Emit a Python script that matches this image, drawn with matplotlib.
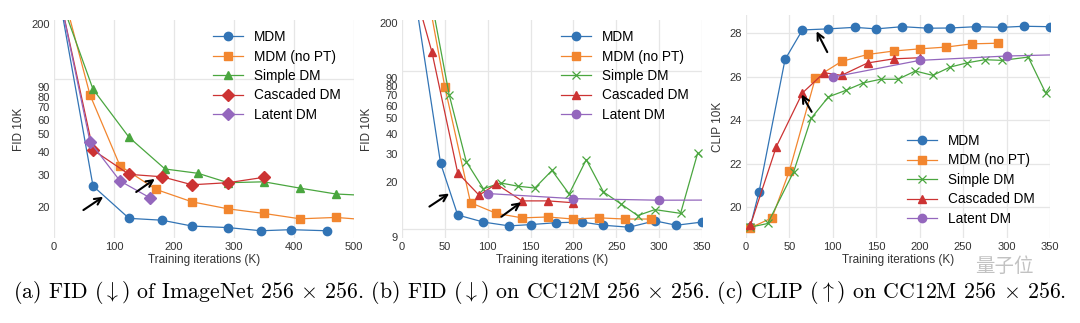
import matplotlib
matplotlib.use("Agg")
import matplotlib.pyplot as plt
from matplotlib.ticker import FixedLocator, NullFormatter, FixedFormatter

# ---- (a) FID on ImageNet 256x256 ----
a_mdm_x = [5, 65, 125, 180, 230, 290, 345, 395, 455]
a_mdm_y = [330, 26.0, 17.3, 16.9, 15.7, 15.4, 14.8, 15.0, 14.8]
a_nopt_x = [5, 60, 110, 170, 230, 290, 350, 410, 470, 530]
a_nopt_y = [395, 81.8, 33.5, 24.9, 21.3, 19.5, 18.4, 17.2, 17.5, 16.9]
a_simple_x = [5, 65, 125, 185, 240, 290, 350, 410, 470, 530]
a_simple_y = [310, 87.9, 48.0, 32.2, 30.5, 27.1, 27.4, 25.3, 23.5, 23.0]
a_casc_x = [5, 65, 125, 180, 230, 290, 350]
a_casc_y = [330, 40.9, 30.1, 29.2, 26.4, 27.1, 29.0]
a_latent_x = [5, 60, 110, 160]
a_latent_y = [330, 45.4, 27.7, 22.4]

# ---- (b) FID on CC12M 256x256 ----
b_mdm_x = [15, 45, 65, 95, 125, 150, 180, 210, 235, 265, 295, 320, 350]
b_mdm_y = [300, 26.1, 12.3, 11.1, 10.5, 10.7, 11.0, 11.1, 10.6, 10.3, 11.3, 10.6, 11.1]
b_nopt_x = [20, 50, 80, 110, 140, 170, 200, 230, 260, 290]
b_nopt_y = [600, 79.1, 14.7, 12.6, 11.8, 11.95, 11.6, 11.8, 11.6, 11.6]
b_simple_x = [35, 55, 75, 95, 115, 135, 155, 175, 195, 215, 235, 255, 275, 295, 325, 345, 365]
b_simple_y = [267, 70.8, 26.7, 18.0, 19.6, 18.7, 18.2, 23.5, 16.7, 27.5, 17.2, 14.5, 12.2,
              13.3, 12.6, 30.3, 24.0]
b_casc_x = [5, 35, 65, 90, 110, 140, 170, 200]
b_casc_y = [500, 130.8, 22.7, 16.4, 19.3, 15.1, 15.1, 14.7]
b_latent_x = [100, 200, 300, 400]
b_latent_y = [16.8, 15.6, 15.25, 15.3]

# ---- (c) CLIP on CC12M 256x256 ----
c_mdm_x = [5, 15, 45, 65, 95, 125, 150, 180, 210, 235, 265, 295, 320, 350]
c_mdm_y = [19.1, 20.69, 26.79, 28.15, 28.2, 28.27, 28.2, 28.3, 28.23, 28.24, 28.3, 28.27, 28.32, 28.3]
c_nopt_x = [5, 30, 50, 80, 110, 140, 170, 200, 230, 260, 290]
c_nopt_y = [19.04, 19.5, 21.66, 25.95, 26.7, 27.02, 27.18, 27.28, 27.36, 27.51, 27.54]
c_simple_x = [5, 25, 55, 75, 95, 115, 135, 155, 175, 195, 215, 235, 255, 275, 295, 325, 345, 365]
c_simple_y = [19.07, 19.24, 21.63, 24.08, 25.07, 25.37, 25.71, 25.88, 25.88, 26.26, 26.06,
              26.44, 26.64, 26.78, 26.75, 26.9, 25.25, 26.4]
c_casc_x = [5, 35, 65, 90, 110, 140, 170, 200]
c_casc_y = [19.15, 22.78, 25.25, 26.18, 26.06, 26.63, 26.82, 26.87]
c_latent_x = [100, 200, 300, 400]
c_latent_y = [25.98, 26.75, 26.95, 27.05]

labels = ["MDM", "MDM (no PT)", "Simple DM", "Cascaded DM", "Latent DM"]
colors = ["#3274b5", "#f2862f", "#4aa63f", "#cc3333", "#9467bd"]

plt.rcParams["font.family"] = ["Liberation Sans", "DejaVu Sans"]
plt.rcParams["mathtext.fontset"] = "cm"

fig = plt.figure(figsize=(10.8, 3.23), dpi=100)
ax1 = fig.add_axes([0.05, 0.263, 0.2778, 0.675])
ax2 = fig.add_axes([0.3722, 0.263, 0.2778, 0.675])
ax3 = fig.add_axes([0.6907, 0.263, 0.2815, 0.69])


def style(ax):
    ax.set_facecolor("white")
    ax.grid(True, which="major", color="#e6e6e6", lw=0.9)
    ax.set_axisbelow(True)
    for s in ax.spines.values():
        s.set_visible(False)
    ax.tick_params(which="both", length=0, labelsize=8, colors="#333333", pad=3)
    ax.set_xlabel("Training iterations (K)", fontsize=8.5, color="#333333", labelpad=1)


def plot_series(ax, data, markers):
    for (x, y), lab, c, m in zip(data, labels, colors, markers):
        ax.plot(x, y, color=c, marker=m, lw=0.9, ms=6, label=lab,
                mec=c, mew=1.0 if m != "x" else 0.9)


def log_ticks(ax, labs):
    ax.set_yscale("log")
    ax.yaxis.set_major_locator(FixedLocator([10, 100]))
    ax.yaxis.set_major_formatter(NullFormatter())
    ax.yaxis.set_minor_locator(FixedLocator(labs))
    ax.yaxis.set_minor_formatter(FixedFormatter([str(v) for v in labs]))


def arrow(ax, x0, y0, x1, y1):
    ax.annotate("", xy=(x1, y1), xytext=(x0, y0),
                arrowprops=dict(arrowstyle="->", color="black", lw=1.5,
                                shrinkA=0, shrinkB=0, mutation_scale=12))


leg_kw = dict(fontsize=9.8, frameon=False, handlelength=2.2, labelspacing=0.4)

# panel a
plot_series(ax1, [(a_mdm_x, a_mdm_y), (a_nopt_x, a_nopt_y), (a_simple_x, a_simple_y),
                  (a_casc_x, a_casc_y), (a_latent_x, a_latent_y)],
            ["o", "s", "^", "D", "D"])
style(ax1)
log_ticks(ax1, [20, 30, 40, 50, 60, 70, 80, 90, 200])
ax1.set_xlim(0, 500)
ax1.set_ylim(13.5, 210)
ax1.set_xticks([0, 100, 200, 300, 400, 500])
ax1.set_ylabel("FID 10K", fontsize=8.5, color="#333333")
ax1.yaxis.set_label_coords(-0.097, 0.5)
arrow(ax1, 49, 19.2, 82, 22.7)
arrow(ax1, 137, 24.1, 168, 28.4)
ax1.legend(loc="upper right", bbox_to_anchor=(0.995, 1.01), **leg_kw)

# panel b
plot_series(ax2, [(b_mdm_x, b_mdm_y), (b_nopt_x, b_nopt_y), (b_simple_x, b_simple_y),
                  (b_casc_x, b_casc_y), (b_latent_x, b_latent_y)],
            ["o", "s", "x", "^", "o"])
style(ax2)
log_ticks(ax2, [9, 20, 30, 40, 50, 60, 70, 80, 90, 200])
ax2.set_xlim(0, 350)
ax2.set_ylim(8.8, 209)
ax2.set_xticks([0, 50, 100, 150, 200, 250, 300, 350])
ax2.set_ylabel("FID 10K", fontsize=8.5, color="#333333")
ax2.yaxis.set_label_coords(-0.097, 0.5)
arrow(ax2, 32, 13.9, 55, 16.8)
arrow(ax2, 116, 12.0, 139, 14.8)
ax2.legend(loc="upper right", bbox_to_anchor=(0.997, 1.01), **leg_kw)

# panel c
plot_series(ax3, [(c_mdm_x, c_mdm_y), (c_nopt_x, c_nopt_y), (c_simple_x, c_simple_y),
                  (c_casc_x, c_casc_y), (c_latent_x, c_latent_y)],
            ["o", "s", "x", "^", "o"])
style(ax3)
ax3.set_xlim(0, 350)
ax3.set_ylim(18.57, 28.83)
ax3.set_xticks([0, 50, 100, 150, 200, 250, 300, 350])
ax3.set_yticks([20, 22, 24, 26, 28])
ax3.set_ylabel("CLIP 10K", fontsize=8.5, color="#333333")
ax3.yaxis.set_label_coords(-0.072, 0.5)
arrow(ax3, 93.6, 27.13, 81.3, 28.09)
arrow(ax3, 75.6, 24.38, 64.1, 25.18)
ax3.legend(loc="lower right", bbox_to_anchor=(0.99, 0.0), **leg_kw)

fig.text(0.5, 0.093,
         r"(a) FID ($\downarrow$) of ImageNet 256 $\times$ 256. (b) FID ($\downarrow$) on CC12M 256 $\times$ 256. "
         r"(c) CLIP ($\uparrow$) on CC12M 256 $\times$ 256.",
         ha="center", va="center", fontsize=15.7, family=["cmr10", "DejaVu Serif"])
fig.text(0.93, 0.175, "量子位", ha="center", va="center", fontsize=14,
         color="#9a9a9a", alpha=0.6, family=["Noto Sans CJK SC", "DejaVu Sans"])

fig.savefig("out.png", dpi=100, facecolor="white")
